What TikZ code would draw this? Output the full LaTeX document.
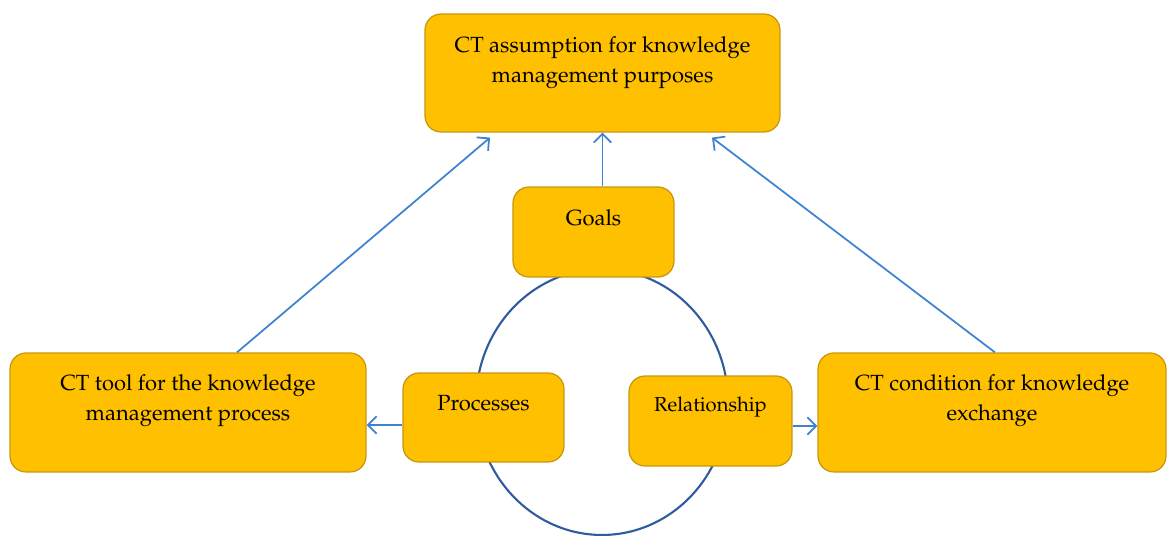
\documentclass[tikz,border=0pt]{standalone}
\usepackage[T1]{fontenc}
\usepackage{mathpazo}
\usepackage{xcolor}
\usepackage{tikz}
\usetikzlibrary{arrows.meta}

\definecolor{boxfill}{HTML}{FFC000}
\definecolor{boxline}{HTML}{C8960C}
\definecolor{ringblue}{HTML}{2E5C9E}
\definecolor{arrowblue}{HTML}{3F82D2}

\begin{document}
\begin{tikzpicture}[x=0.02cm, y=-0.02cm,
    box/.style={draw=boxline, fill=boxfill, line width=0.7pt, rounded corners=0.32cm, inner sep=0pt},
    txt/.style={align=center, font=\fontsize{12.5}{17}\selectfont, inner sep=0pt},
    arr/.style={draw=arrowblue, line width=1pt, -{Straight Barb[length=5pt, width=10pt]}}]
                \useasboundingbox (0,0) rectangle (1167,536);
                % ring behind the three inner boxes
                \draw[ringblue, line width=1.2pt] (602,402) ellipse (2.52cm and 2.66cm);
                % boxes
                \node[box, minimum width=7.1cm, minimum height=2.36cm] (top) at (602.5,73) {};
                \node[box, minimum width=3.22cm, minimum height=1.8cm] (goals) at (593.5,232) {};
                \node[box, minimum width=3.22cm, minimum height=1.78cm] (proc) at (483.5,417.5) {};
                \node[box, minimum width=3.26cm, minimum height=1.8cm] (rel) at (710.5,421) {};
                \node[box, minimum width=7.12cm, minimum height=2.38cm] (tool) at (188,412.5) {};
                \node[box, minimum width=6.96cm, minimum height=2.38cm] (cond) at (992,412.5) {};
                % labels
                \node[txt] (topt) at (602.5,63) {CT assumption for knowledge\\management purposes};
                \node[txt] (goalst) at (593.5,218) {Goals};
                \node[txt] (proct) at (483.5,403) {Processes};
                \node[txt, font=\fontsize{11.5}{15}\selectfont] (relt) at (710.5,407) {Relationship};
                \node[txt] (toolt) at (188,401) {CT tool for the knowledge\\management process};
                \node[txt] (condt) at (992,401) {CT condition for knowledge\\exchange};
                % arrows
                \draw[arr] (goals.north -| top.south) -- (top.south);
                \draw[arr] ([xshift=0.98cm]tool.north) -- ([xshift=-2.25cm, yshift=-0.1cm]top.south);
                \draw[arr] ([xshift=0.06cm]cond.north) -- ([xshift=2.19cm, yshift=-0.1cm]top.south);
                \draw[arr] ([yshift=-0.15cm]proc.west) -- ([yshift=-0.15cm]proc.west -| tool.east);
                \draw[arr] ([yshift=-0.1cm]rel.east) -- ([yshift=-0.1cm]rel.east -| cond.west);
\end{tikzpicture}
\end{document}
